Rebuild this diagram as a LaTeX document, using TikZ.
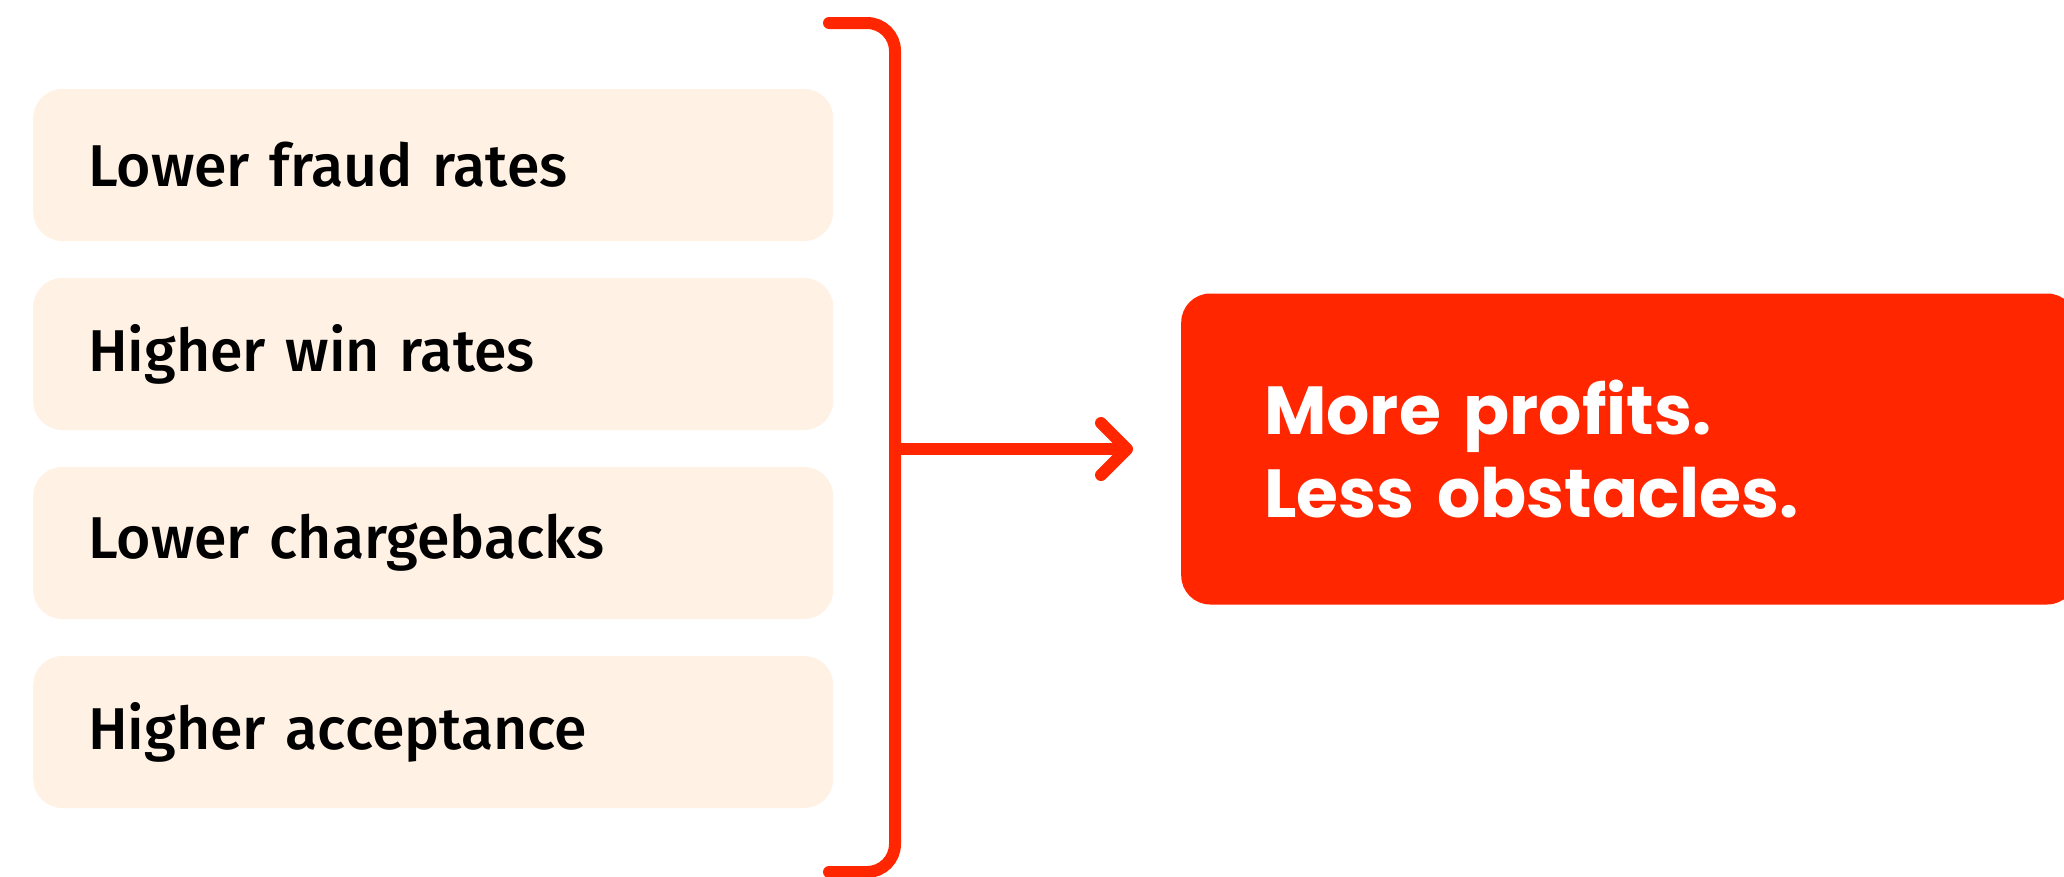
\documentclass[tikz,border=0pt]{standalone}
\usepackage{fontspec}
\setmainfont{Fira Sans}[UprightFont=* Medium]
\newfontfamily\headfont{Poppins}
\usepackage{tikz}
\usetikzlibrary{arrows.meta,positioning}
\definecolor{gainRed}{HTML}{FF2600}
\definecolor{gainPeach}{HTML}{FFF2E5}

\begin{document}
\begin{tikzpicture}[x=1pt,y=-1pt,
  gain/.style={fill=gainPeach, rounded corners=29pt, minimum height=152pt,
    text width=690pt, inner xsep=55pt, align=left,
    font=\fontsize{59}{72}\selectfont},
  goal/.style={fill=gainRed, rounded corners=29pt, minimum height=311pt,
    text width=729pt, inner xsep=83pt, align=left, text=white,
    font=\headfont\bfseries\fontsize{68}{83}\selectfont},
  brk/.style={draw=gainRed, line width=12pt, line cap=round},
  link/.style={brk, -{Straight Barb[length=26pt,width=52pt,line cap=round,line join=round]}}]
\useasboundingbox (0,0) rectangle (2064,876);
% benefit boxes
\foreach \txt [count=\i] in {Lower fraud rates,Higher win rates,Lower chargebacks,Higher acceptance}{
  \node[gain, anchor=west] (g\i) at (33,{165+(\i-1)*189}) {\txt};
}
% result box
\node[goal, anchor=west] (res) at (1181,449) {More profits.\\Less obstacles.};
% bracket and arrow
\draw[brk, rounded corners=28pt] (829,23) -| (895,872) -- (829,872);
\coordinate (join) at (895,449);
\draw[link, shorten >=48pt] (join) -- (res.west);
\end{tikzpicture}
\end{document}
